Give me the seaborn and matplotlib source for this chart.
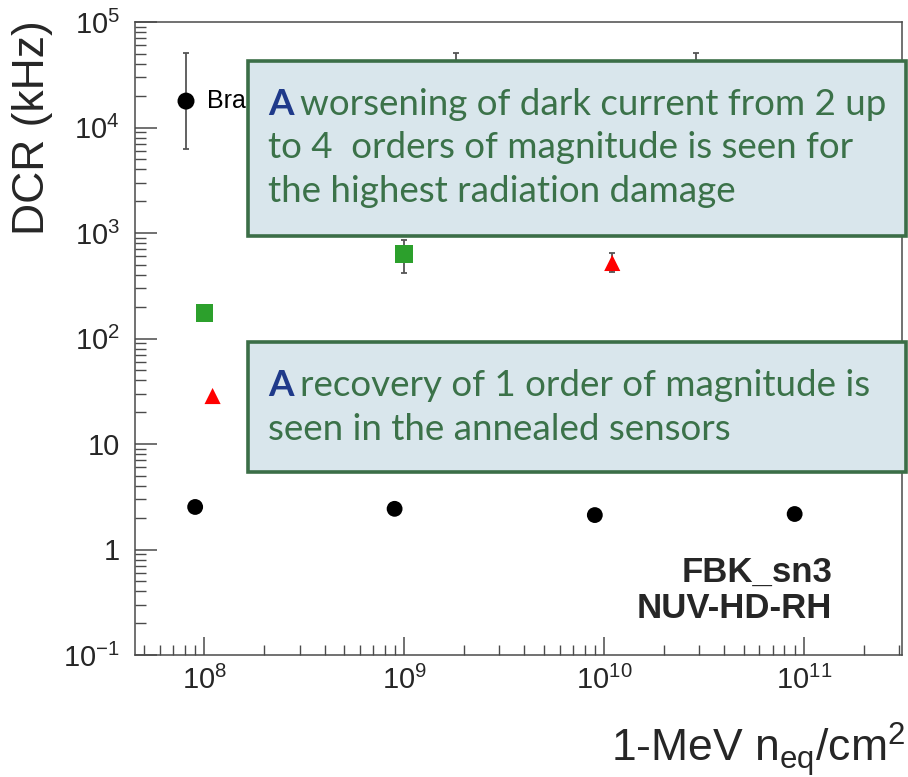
import matplotlib
matplotlib.use("Agg")
import matplotlib.pyplot as plt
import seaborn as sns
import pandas as pd
from matplotlib.patches import Rectangle
from matplotlib.ticker import FixedLocator, FixedFormatter, LogLocator, NullFormatter

# ---- data -------------------------------------------------------------
fluence_new = [9.0e7, 8.96e8, 9.0e9, 9.0e10]
dcr_new = [2.53, 2.43, 2.12, 2.17]

fluence_irr = [1.0e8, 1.0e9]
dcr_irr = [175, 632]
irr_err_lo = [175, 418]
irr_err_hi = [175, 860]

fluence_ann = [1.1e8, 1.1e10]
dcr_ann = [28.5, 520]
ann_err_lo = [28.5, 427]
ann_err_hi = [28.5, 646]

series_names = ["Brand new", "Irradiated", "Annealed"]
legend_x = [8.1e7, 1.81e9, 2.9e10]
legend_y = 1.78e4
legend_lo = 6.3e3
legend_hi = 5.1e4

y_ticks = [1e-1, 1, 10, 1e2, 1e3, 1e4, 1e5]
y_ticklabels = [r"$10^{-1}$", "1", "10", r"$10^{2}$", r"$10^{3}$", r"$10^{4}$", r"$10^{5}$"]
x_ticks = [1e8, 1e9, 1e10, 1e11]
x_ticklabels = [r"$10^{8}$", r"$10^{9}$", r"$10^{10}$", r"$10^{11}$"]

note_top = ["worsening of dark current from 2 up",
            "to 4  orders of magnitude is seen for",
            "the highest radiation damage"]
note_bottom = ["recovery of 1 order of magnitude is",
               "seen in the annealed sensors"]

# ---- style ------------------------------------------------------------
sns.set_theme(style="white")
plt.rcParams["font.family"] = ["Liberation Sans", "DejaVu Sans"]
plt.rcParams["mathtext.fontset"] = "custom"
plt.rcParams["mathtext.rm"] = "Liberation Sans"
plt.rcParams["mathtext.it"] = "Liberation Sans:italic"
plt.rcParams["mathtext.bf"] = "Liberation Sans:bold"

W, H = 908, 777
fig = plt.figure(figsize=(W / 100, H / 100), dpi=100)


def fx(px):
    return px / W


def fy(py):
    return 1 - py / H


ax = fig.add_axes([fx(135), fy(655), fx(902) - fx(135), fy(22) - fy(655)])

df = pd.DataFrame({
    "fluence": fluence_new + fluence_irr + fluence_ann,
    "dcr": dcr_new + dcr_irr + dcr_ann,
    "set": [series_names[0]] * len(fluence_new)
           + [series_names[1]] * len(fluence_irr)
           + [series_names[2]] * len(fluence_ann),
})
palette = {series_names[0]: "black", series_names[1]: "#2ca02c", series_names[2]: "#ff0000"}
markers = {series_names[0]: "o", series_names[1]: "s", series_names[2]: "^"}
sizes = {series_names[0]: 130, series_names[1]: 155, series_names[2]: 135}

err_kw = dict(fmt="none", ecolor="#555555", elinewidth=1.3, capsize=2.5, capthick=1.3, zorder=2)
ax.errorbar(fluence_irr, dcr_irr,
            yerr=[[d - l for d, l in zip(dcr_irr, irr_err_lo)],
                  [h - d for d, h in zip(dcr_irr, irr_err_hi)]], **err_kw)
ax.errorbar(fluence_ann, dcr_ann,
            yerr=[[d - l for d, l in zip(dcr_ann, ann_err_lo)],
                  [h - d for d, h in zip(dcr_ann, ann_err_hi)]], **err_kw)

for name in series_names:
    sub = df[df["set"] == name]
    sns.scatterplot(data=sub, x="fluence", y="dcr", color=palette[name],
                    marker=markers[name], s=sizes[name], edgecolor="none",
                    linewidth=0, ax=ax, legend=False, zorder=3)

# legend entries: marker with its error bar, then the label
for i, name in enumerate(series_names):
    ax.errorbar([legend_x[i]], [legend_y],
                yerr=[[legend_y - legend_lo], [legend_hi - legend_y]], **err_kw)
    ax.scatter([legend_x[i]], [legend_y], color=palette[name], marker=markers[name],
               s=sizes[name] * 1.15, edgecolor="none", zorder=3)
ax.text(legend_x[0] * 1.27, legend_y, series_names[0], fontsize=18, va="center",
        ha="left", color="black", zorder=3)

ax.set_xscale("log")
ax.set_yscale("log")
ax.set_xlim(4.5e7, 3.1e11)
ax.set_ylim(1e-1, 1e5)
ax.set_xlabel("")
ax.set_ylabel("")

ax.yaxis.set_major_locator(FixedLocator(y_ticks))
ax.yaxis.set_major_formatter(FixedFormatter(y_ticklabels))
ax.xaxis.set_major_locator(FixedLocator(x_ticks))
ax.xaxis.set_major_formatter(FixedFormatter(x_ticklabels))
ax.xaxis.set_minor_locator(LogLocator(base=10, subs=range(2, 10), numticks=20))
ax.yaxis.set_minor_locator(LogLocator(base=10, subs=range(2, 10), numticks=20))
ax.xaxis.set_minor_formatter(NullFormatter())
ax.yaxis.set_minor_formatter(NullFormatter())

frame = "#4a4a4a"
for sp in ax.spines.values():
    sp.set_color(frame)
    sp.set_linewidth(1.1)
ax.tick_params(axis="y", which="major", direction="in", length=16, width=1.1,
               color=frame, labelsize=21, pad=11, left=True, right=False)
ax.tick_params(axis="y", which="minor", direction="in", length=8, width=1.0,
               color=frame, left=True, right=False)
ax.tick_params(axis="x", which="major", direction="in", length=13, width=1.1,
               color=frame, labelsize=21, pad=8, bottom=True, top=False)
ax.tick_params(axis="x", which="minor", direction="in", length=7, width=1.0,
               color=frame, bottom=True, top=False)

# axis titles
fig.text(fx(33), fy(20), "DCR (kHz)", rotation=90, ha="center", va="top", fontsize=32)
fig.text(fx(905), fy(762), r"1-MeV n$_{\mathregular{eq}}$/cm$^{\mathregular{2}}$",
         ha="right", va="baseline", fontsize=32)

# device label
fig.text(fx(832), fy(572), "FBK_sn3", ha="right", va="center", fontsize=25,
         fontweight="bold")
fig.text(fx(832), fy(609), "NUV-HD-RH", ha="right", va="center", fontsize=25,
         fontweight="bold")

# annotation boxes
box_face = "#d9e6ec"
box_edge = "#3b6e47"
txt_green = "#3b7249"
txt_blue = "#1f3a8a"
note_font = ["Lato", "DejaVu Sans"]
note_size = 26.5


def note(x0, y0, x1, y1, lines, baselines):
    rect = Rectangle((fx(x0), fy(y1)), fx(x1) - fx(x0), fy(y0) - fy(y1),
                     transform=fig.transFigure, facecolor=box_face,
                     edgecolor=box_edge, linewidth=2.6, zorder=10)
    fig.patches.append(rect)
    lead = fig.text(fx(268), fy(baselines[0]), "A", color=txt_blue, fontsize=note_size,
                    fontweight="bold", family=note_font,
                    va="baseline", ha="left", zorder=11)
    fig.canvas.draw()
    bb = lead.get_window_extent()
    fig.text(bb.x1 / W + fx(6), fy(baselines[0]), lines[0], color=txt_green,
             fontsize=note_size, family=note_font, va="baseline", ha="left", zorder=11)
    for line, base in zip(lines[1:], baselines[1:]):
        fig.text(fx(268), fy(base), line, color=txt_green, fontsize=note_size,
                 family=note_font, va="baseline", ha="left", zorder=11)


note(248, 61, 906, 236, note_top, [115, 158, 202])
note(248, 342, 906, 472, note_bottom, [396, 440])

fig.savefig("out.png", dpi=100)
